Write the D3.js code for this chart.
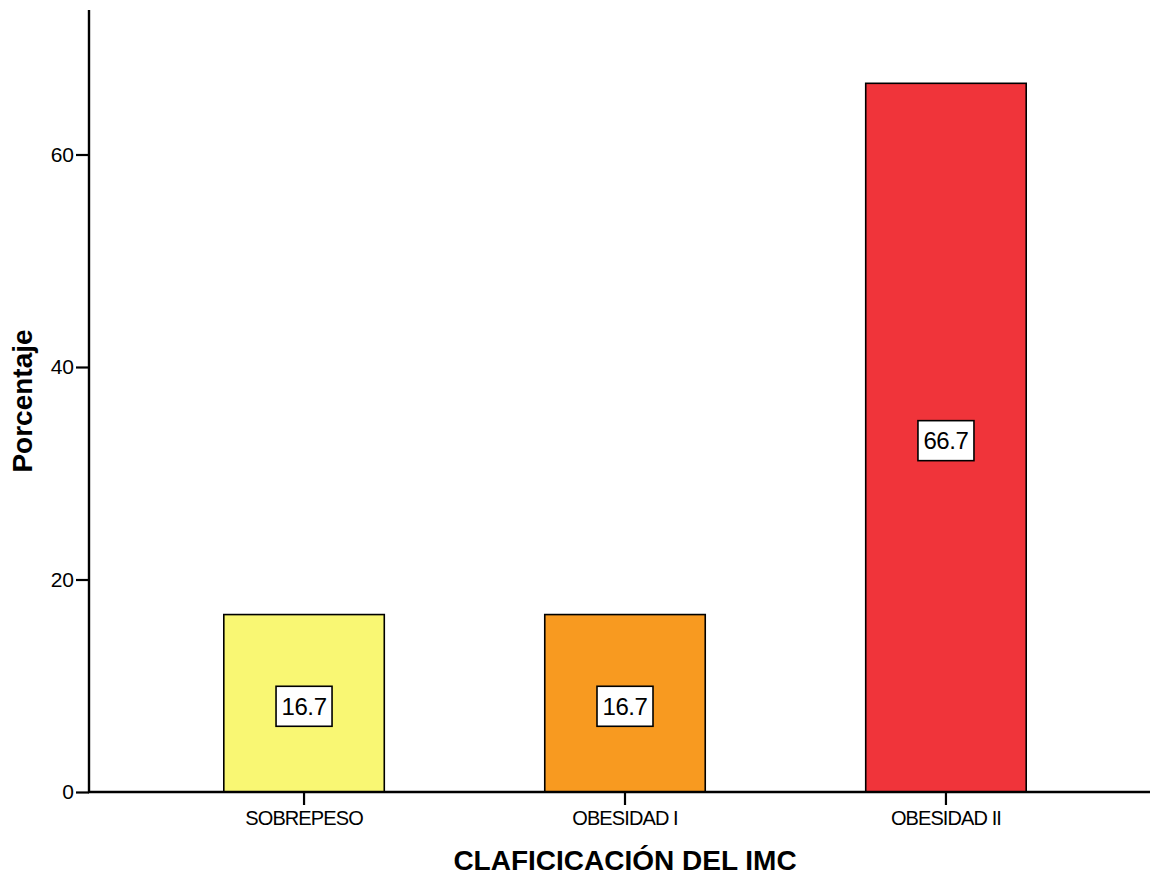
<!DOCTYPE html>
<html>
<head>
<meta charset="utf-8">
<script src="https://cdn.jsdelivr.net/npm/d3@7"></script>
<style>
  html, body { margin: 0; padding: 0; background: #fff; }
  svg { display: block; font-family: "Liberation Sans", Arial, sans-serif; }
</style>
</head>
<body>
<svg id="chart" width="1154" height="875"></svg>
<script>
// Distribution of BMI classification (percent)
const categories = ["SOBREPESO", "OBESIDAD I", "OBESIDAD II"];
const displayLabels = ["SOBREPESO", "OBESIDAD I", "OBESIDAD II"];
const percentages = [16.7, 16.7, 66.7];
const barColors = ["#f9f773", "#f89a20", "#f0343a"];
const yTicks = [0, 20, 40, 60];

const svg = d3.select("#chart");
const plot = { left: 89, top: 10, bottom: 792, right: 1150 };

const x = d3.scaleBand()
  .domain(categories)
  .range([89, 1161])
  .paddingInner(0.5)
  .paddingOuter(0.42);

const y = d3.scaleLinear()
  .domain([0, 73.6])
  .range([plot.bottom, plot.top]);

// Bars
svg.append("g")
  .selectAll("rect")
  .data(categories)
  .join("rect")
  .attr("x", d => x(d))
  .attr("y", (d, i) => y(percentages[i]))
  .attr("width", x.bandwidth())
  .attr("height", (d, i) => y(0) - y(percentages[i]))
  .attr("fill", (d, i) => barColors[i])
  .attr("stroke", "#000")
  .attr("stroke-width", 1.6);

// Value labels in white boxes
const labels = svg.append("g")
  .selectAll("g")
  .data(categories)
  .join("g")
  .attr("transform", (d, i) => `translate(${x(d) + x.bandwidth() / 2},${y(percentages[i] / 2) + 3})`);

labels.append("rect")
  .attr("x", -28)
  .attr("y", -20)
  .attr("width", 56)
  .attr("height", 40)
  .attr("fill", "#fff")
  .attr("stroke", "#000")
  .attr("stroke-width", 1.6);

labels.append("text")
  .attr("text-anchor", "middle")
  .attr("dy", "0.36em")
  .attr("font-size", 24)
  .attr("letter-spacing", -0.4)
  .attr("fill", "#000")
  .text((d, i) => percentages[i].toFixed(1));

// Y axis
const yAxis = svg.append("g")
  .attr("transform", `translate(${plot.left},0)`)
  .call(d3.axisLeft(y).tickValues(yTicks).tickSize(13).tickPadding(2).tickFormat(d3.format("d")));
yAxis.select(".domain").remove();
yAxis.selectAll(".tick line").attr("stroke", "#000").attr("stroke-width", 2.2);
yAxis.selectAll(".tick text")
  .attr("font-size", 21)
  .attr("font-family", "Liberation Sans, Arial, sans-serif")
  .attr("fill", "#000");

svg.append("line")
  .attr("x1", plot.left).attr("x2", plot.left)
  .attr("y1", plot.top).attr("y2", plot.bottom + 1)
  .attr("stroke", "#000").attr("stroke-width", 2.4);

// X axis
const xAxis = svg.append("g")
  .attr("transform", `translate(0,${plot.bottom})`)
  .call(d3.axisBottom(x).tickSize(13).tickPadding(6).tickFormat((d, i) => displayLabels[i]));
xAxis.select(".domain").remove();
xAxis.selectAll(".tick line").attr("stroke", "#000").attr("stroke-width", 2.2);
xAxis.selectAll(".tick text")
  .attr("font-size", 20)
  .attr("letter-spacing", -0.9)
  .attr("font-family", "Liberation Sans, Arial, sans-serif")
  .attr("fill", "#000");

svg.append("line")
  .attr("x1", plot.left - 1).attr("x2", plot.right)
  .attr("y1", plot.bottom).attr("y2", plot.bottom)
  .attr("stroke", "#000").attr("stroke-width", 2.4);

// Axis titles
svg.append("text")
  .attr("x", 625)
  .attr("y", 870)
  .attr("text-anchor", "middle")
  .attr("font-size", 28)
  .attr("font-weight", "bold")
  .text("CLAFICICACIÓN DEL IMC");

svg.append("text")
  .attr("transform", "translate(32,401) rotate(-90)")
  .attr("text-anchor", "middle")
  .attr("font-size", 28)
  .attr("font-weight", "bold")
  .text("Porcentaje");
</script>
</body>
</html>
